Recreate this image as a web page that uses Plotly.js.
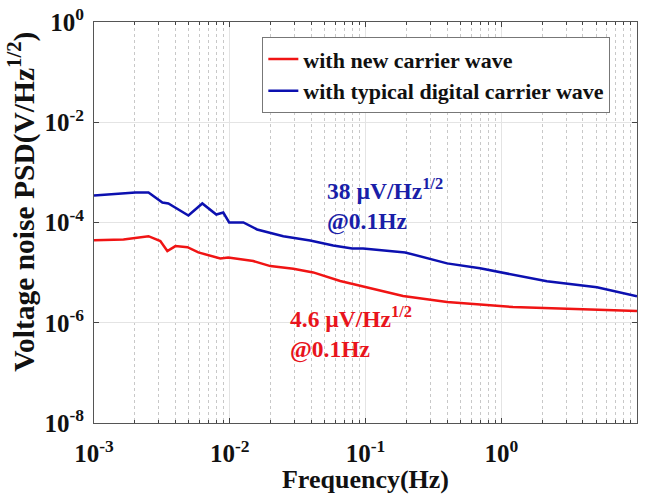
<!DOCTYPE html>
<html>
<head>
<meta charset="utf-8">
<script src="https://cdn.plot.ly/plotly-3.0.1.min.js"></script>
<style>html,body{margin:0;padding:0;background:#fff;}#chart{width:652px;height:494px;}</style>
</head>
<body>
<div id="chart"></div>
<script>
// Frequency (Hz) and voltage noise PSD (V/Hz^1/2)
const freqNew = [0.001, 0.00165, 0.00252, 0.00308, 0.00347, 0.00398, 0.00488, 0.00587, 0.00852, 0.00975, 0.0149, 0.0199, 0.0294, 0.0412, 0.0651, 0.103, 0.189, 0.399, 1.22, 10];
const psdNew = [4.44e-5, 4.59e-5, 5.33e-5, 4.25e-5, 2.69e-5, 3.38e-5, 3.22e-5, 2.53e-5, 1.92e-5, 2.01e-5, 1.70e-5, 1.35e-5, 1.20e-5, 1.01e-5, 6.79e-6, 5.02e-6, 3.41e-6, 2.59e-6, 2.06e-6, 1.72e-6];
const freqTypical = [0.001, 0.00202, 0.00252, 0.00319, 0.00353, 0.00496, 0.00628, 0.00796, 0.00896, 0.0099, 0.0126, 0.0159, 0.0248, 0.0391, 0.0578, 0.0798, 0.096, 0.196, 0.399, 0.698, 2.17, 5.07, 10];
const psdTypical = [3.44e-4, 3.95e-4, 3.95e-4, 2.5e-4, 2.4e-4, 1.38e-4, 2.4e-4, 1.44e-4, 1.58e-4, 1.0e-4, 1.0e-4, 7.26e-5, 5.34e-5, 4.38e-5, 3.48e-5, 3.04e-5, 3.04e-5, 2.53e-5, 1.53e-5, 1.22e-5, 6.7e-6, 5.1e-6, 3.37e-6];
const seriesNames = ['with new carrier wave', 'with typical digital carrier wave'];
const xTickVals = [0.001, 0.01, 0.1, 1, 10];
const xTickLabels = ['10<sup>-3</sup>', '10<sup>-2</sup>', '10<sup>-1</sup>', '10<sup>0</sup>', '10<sup>1</sup>'];
const yTickVals = [1e-8, 1e-6, 1e-4, 1e-2, 1];
const yTickLabels = ['10<sup>-8</sup>', '10<sup>-6</sup>', '10<sup>-4</sup>', '10<sup>-2</sup>', '10<sup>0</sup>'];
const xTitle = 'Frequency(Hz)';
const yTitle = 'Voltage noise PSD(V/Hz<sup>1/2</sup>)';
const noteTypical = '38 µV/Hz<sup>1/2</sup><br>@0.1Hz';
const noteNew = '4.6 µV/Hz<sup>1/2</sup><br>@0.1Hz';

const RED = '#f01414';
const BLUE = '#0c10b0';
const FONT = 'Liberation Serif, Times New Roman, serif';

const traces = [
  {x: freqNew, y: psdNew, name: seriesNames[0], type: 'scatter', mode: 'lines',
   line: {color: RED, width: 2.5}},
  {x: freqTypical, y: psdTypical, name: seriesNames[1], type: 'scatter', mode: 'lines',
   line: {color: BLUE, width: 2.5}}
];

const axisCommon = {
  showline: true, linecolor: '#555', linewidth: 1, mirror: 'ticks',
  ticks: 'inside', tickcolor: '#444', tickwidth: 1,
  tickfont: {family: FONT, size: 25, color: '#111', weight: 'bold'},
  zeroline: false, gridcolor: '#e4e4e4', gridwidth: 1
};

const layout = {
  width: 652, height: 494,
  margin: {l: 94, r: 15, t: 22, b: 71},
  paper_bgcolor: '#fff', plot_bgcolor: '#fff',
  showlegend: true,
  font: {family: FONT, color: '#111'},
  xaxis: Object.assign({}, axisCommon, {
    type: 'log', range: [-3, 1], tickmode: 'array', tickvals: xTickVals, ticktext: xTickLabels,
    ticklen: 5, showgrid: true, ticklabelstandoff: 8,
    minor: {dtick: 'D1', ticks: 'inside', ticklen: 3, tickcolor: '#444', showgrid: true,
            gridcolor: '#c8c8c8', griddash: 'dot', gridwidth: 1},
    title: {text: xTitle, font: {family: FONT, size: 26, color: '#111', weight: 'bold'}, standoff: 9}
  }),
  yaxis: Object.assign({}, axisCommon, {
    type: 'log', range: [-8, 0], tickmode: 'array', tickvals: yTickVals, ticktext: yTickLabels,
    ticklen: 5, showgrid: true, ticklabelstandoff: 4
  }),
  legend: {
    x: 0.31, y: 0.962, xanchor: 'left', yanchor: 'top',
    bgcolor: '#fff', bordercolor: '#777', borderwidth: 1,
    font: {family: FONT, size: 22, color: '#111', weight: 'bold'},
    tracegroupgap: 0, itemwidth: 30
  },
  annotations: [
    {xref: 'paper', yref: 'paper', x: -0.1326, y: 0.552, text: yTitle, textangle: -90,
     showarrow: false, xanchor: 'center', yanchor: 'middle',
     font: {family: FONT, size: 29.5, color: '#111', weight: 'bold'}},
    {xref: 'paper', yref: 'paper', x: 0.425, y: 0.546, text: noteTypical, align: 'left',
     showarrow: false, xanchor: 'left', yanchor: 'middle',
     font: {family: FONT, size: 23.5, color: '#1a1ea8', weight: 'bold'}},
    {xref: 'paper', yref: 'paper', x: 0.358, y: 0.226, text: noteNew, align: 'left',
     showarrow: false, xanchor: 'left', yanchor: 'middle',
     font: {family: FONT, size: 23.5, color: '#e8141c', weight: 'bold'}}
  ]
};

Plotly.newPlot('chart', traces, layout, {displayModeBar: false, staticPlot: true});
</script>
</body>
</html>
